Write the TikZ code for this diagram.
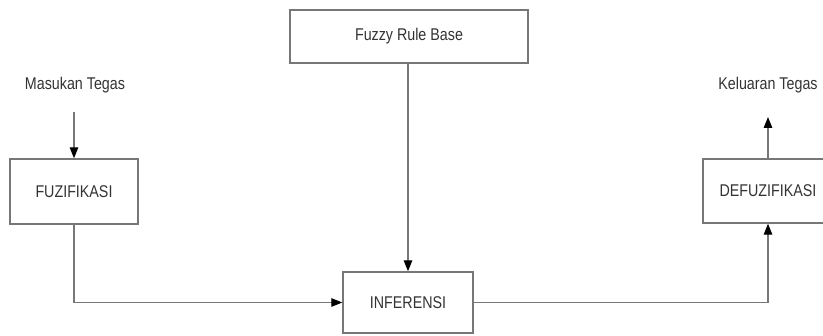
\documentclass[tikz,border=0pt]{standalone}
\usepackage{fontspec}
\setmainfont{Liberation Sans}[FakeStretch=0.84]
\usetikzlibrary{arrows.meta}
\definecolor{linec}{HTML}{777777}
\definecolor{textc}{HTML}{333333}
\tikzset{
  blockbox/.style={draw=linec, line width=1.4pt, fill=white, inner sep=0pt, text=textc, font=\fontsize{17}{18}\selectfont},
  lbl/.style={inner sep=0pt, text=textc, font=\fontsize{17}{18}\selectfont},
  conn/.style={draw=linec, line width=1.3pt, -{Triangle[length=11pt,width=8.5pt,fill=black,color=black]}},
}
\begin{document}
\begin{tikzpicture}[x=1pt,y=-1pt]
\useasboundingbox (0,0) rectangle (823,336);
\clip (0,0) rectangle (823,336);
\fill[white] (0,0) rectangle (823,336);
\node[blockbox, minimum width=128pt, minimum height=65pt] (fuz) at (74,191.5) {FUZIFIKASI};
\node[blockbox, minimum width=238pt, minimum height=53pt] (rule) at (409,36.5) {Fuzzy Rule Base};
\node[blockbox, minimum width=130pt, minimum height=61pt] (inf) at (408,302.5) {INFERENSI};
\node[blockbox, minimum width=130pt, minimum height=64pt] (defuz) at (768,191) {DEFUZIFIKASI};
\node[lbl] (in) at (75,85) {Masukan Tegas};
\node[lbl] (out) at (768,85) {Keluaran Tegas};
\coordinate (inEnd) at (74,112);
\coordinate (outEnd) at (768,117);
\draw[conn] (inEnd) -- (fuz.north);
\draw[conn] (defuz.north) -- (outEnd);
\draw[conn] (rule.south -| inf.north) -- (inf.north);
\draw[conn] (fuz.south) |- (inf.west);
\draw[conn] (inf.east) -| (defuz.south);
\end{tikzpicture}
\end{document}
